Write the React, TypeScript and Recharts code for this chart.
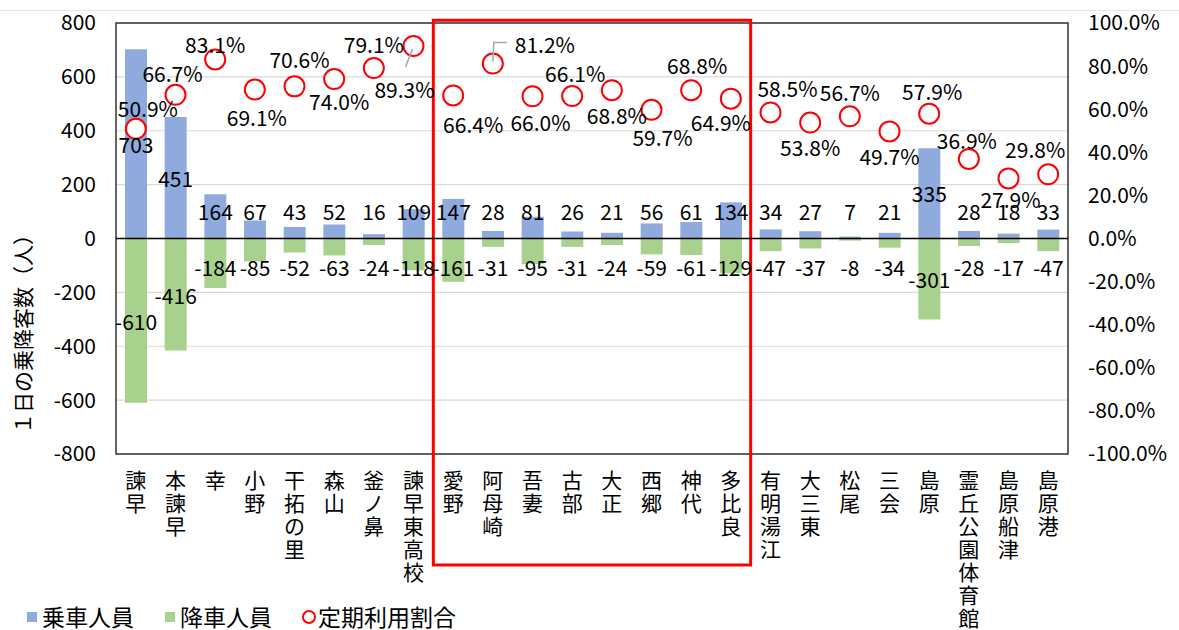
import React from 'react';
import {
  ComposedChart,
  Bar,
  Line,
  XAxis,
  YAxis,
  CartesianGrid,
  ReferenceLine,
  ReferenceArea,
  LabelList,
} from 'recharts';

const FONT = "'Noto Sans CJK JP', 'Noto Sans', sans-serif";

const stations = [
  '諫早', '本諫早', '幸', '小野', '干拓の里', '森山', '釜ノ鼻', '諫早東高校',
  '愛野', '阿母崎', '吾妻', '古部', '大正', '西郷', '神代', '多比良',
  '有明湯江', '大三東', '松尾', '三会', '島原', '霊丘公園体育館', '島原船津', '島原港',
];
const boarding = [703, 451, 164, 67, 43, 52, 16, 109, 147, 28, 81, 26, 21, 56, 61, 134, 34, 27, 7, 21, 335, 28, 18, 33];
const alighting = [-610, -416, -184, -85, -52, -63, -24, -118, -161, -31, -95, -31, -24, -59, -61, -129, -47, -37, -8, -34, -301, -28, -17, -47];
const passRatio = [50.9, 66.7, 83.1, 69.1, 70.6, 74.0, 79.1, 89.3, 66.4, 81.2, 66.0, 66.1, 68.8, 59.7, 68.8, 64.9, 58.5, 53.8, 56.7, 49.7, 57.9, 36.9, 27.9, 29.8];

const leftTicks = [-800, -600, -400, -200, 0, 200, 400, 600, 800];
const rightTicks = [-100, -80, -60, -40, -20, 0, 20, 40, 60, 80, 100];

// where each ratio label sits relative to its circle (px), like the hand-moved excel labels
const ratioLabelPos: { dx: number; dy: number; leader?: 'down' | 'up' }[] = [
  { dx: 12, dy: -21 }, { dx: -3, dy: -22 }, { dx: 0, dy: -15 }, { dx: 2, dy: 27 },
  { dx: 5, dy: -27 }, { dx: 5, dy: 22 }, { dx: 0, dy: -24 }, { dx: -9, dy: 43, leader: 'down' },
  { dx: 20, dy: 29 }, { dx: 52, dy: -20, leader: 'up' }, { dx: 8, dy: 26 }, { dx: 3, dy: -23 },
  { dx: 5, dy: 25 }, { dx: 11, dy: 27 }, { dx: 6, dy: -25 }, { dx: -10, dy: 23 },
  { dx: 17, dy: -24 }, { dx: 0, dy: 24 }, { dx: 0, dy: -24 }, { dx: 0, dy: 25 },
  { dx: 3, dy: -23 }, { dx: -2, dy: -19 }, { dx: 2, dy: 21 }, { dx: -13, dy: -25 },
];

const data = stations.map((name, i) => ({
  name,
  boarding: boarding[i],
  alighting: alighting[i],
  ratio: passRatio[i],
}));

const BLUE = '#8faadc';
const GREEN = '#a9d18e';
const RED = '#ff0000';

const StationTick = (props: any) => {
  const { x, y, payload } = props;
  const chars = String(payload.value).split('');
  return (
    <text x={x} y={y} textAnchor="middle" fontSize={21} fontFamily={FONT} fill="#000">
      {chars.map((c, i) => (
        <tspan key={i} x={x} dy={i === 0 ? 34 : 23}>
          {c}
        </tspan>
      ))}
    </text>
  );
};

// bar labels sit at the bar centre, but never closer to the zero line than a set amount
const makeBarLabel = (minOffset: number) => (props: any) => {
  const { x, y, width, height, value } = props;
  const top = Math.min(y, y + height);
  const bottom = Math.max(y, y + height);
  const h = bottom - top;
  const zeroY = value >= 0 ? bottom : top;
  const ppu = value !== 0 ? h / Math.abs(value) : 0;
  const target = value >= 0 ? Math.max(value / 2, minOffset) : Math.min(value / 2, -minOffset);
  const ly = zeroY - target * ppu;
  return (
    <text
      x={x + width / 2}
      y={ly}
      textAnchor="middle"
      dominantBaseline="central"
      fontSize={21}
      fontFamily={FONT}
      fill="#000"
    >
      {value}
    </text>
  );
};

const RatioLabel = (props: any) => {
  const { x, y, value, index } = props;
  const pos = ratioLabelPos[index] || { dx: 0, dy: -24 };
  const lx = x + pos.dx;
  const ly = y + pos.dy;
  return (
    <g>
      {pos.leader === 'down' && (
        <line x1={x - 1} y1={y + 3} x2={x - 8} y2={y + 21} stroke="#a6a6a6" strokeWidth={1.5} />
      )}
      {pos.leader === 'up' && (
        <polyline
          points={`${x},${y - 2} ${x + 1},${y - 21} ${x + 14},${y - 21}`}
          fill="none"
          stroke="#a6a6a6"
          strokeWidth={1.5}
        />
      )}
      <text
        x={lx}
        y={ly}
        textAnchor="middle"
        dominantBaseline="central"
        fontSize={21}
        fontFamily={FONT}
        fill="#000"
      >
        {`${Number(value).toFixed(1)}%`}
      </text>
    </g>
  );
};

const AxisTitle = (props: any) => {
  const { viewBox } = props;
  const cx = viewBox.x + 22;
  const cy = 329;
  return (
    <text
      x={cx}
      y={cy}
      transform={`rotate(-90, ${cx}, ${cy})`}
      textAnchor="middle"
      dominantBaseline="central"
      fontSize={21}
      fontFamily={FONT}
      fill="#000"
    >
      １日の乗降客数（人）
    </text>
  );
};

const legendText: React.CSSProperties = {
  position: 'absolute',
  top: 603,
  fontSize: 23,
  fontFamily: FONT,
  color: '#000',
  lineHeight: '26px',
  whiteSpace: 'nowrap',
};

export default function App() {
  return (
    <div style={{ position: 'absolute', left: 0, top: 0, width: 1179, height: 630, background: '#fff', overflow: 'hidden' }}>
      <div style={{ position: 'absolute', left: 0, top: 10, width: 1179, borderTop: '1px solid #e4e4e4' }} />
      <ComposedChart
        width={1179}
        height={630}
        data={data}
        stackOffset="sign"
        margin={{ top: 23, right: 0, bottom: 0, left: 0 }}
      >
        <CartesianGrid vertical={false} stroke="#d9d9d9" strokeWidth={1.2} yAxisId="left" />
        <XAxis
          dataKey="name"
          interval={0}
          tick={<StationTick />}
          tickLine={false}
          axisLine={false}
          tickSize={0}
          tickMargin={0}
          height={176}
        />
        <YAxis
          yAxisId="left"
          domain={[-800, 800]}
          ticks={leftTicks}
          width={116}
          tickLine={false}
          axisLine={false}
          tickSize={0}
          tickMargin={20}
          tick={{ fill: '#000', fontSize: 21, fontFamily: FONT }}
          label={<AxisTitle />}
        />
        <YAxis
          yAxisId="right"
          orientation="right"
          domain={[-100, 100]}
          ticks={rightTicks}
          width={111}
          tickLine={false}
          axisLine={false}
          tickSize={0}
          tickMargin={20}
          tick={{ fill: '#000', fontSize: 21, fontFamily: FONT, textAnchor: 'start' }}
          tickFormatter={(v: number) => `${v.toFixed(1)}%`}
        />
        <Bar yAxisId="left" dataKey="boarding" stackId="a" fill={BLUE} barSize={22} isAnimationActive={false}>
          <LabelList dataKey="boarding" content={makeBarLabel(101)} />
        </Bar>
        <Bar yAxisId="left" dataKey="alighting" stackId="a" fill={GREEN} barSize={22} isAnimationActive={false}>
          <LabelList dataKey="alighting" content={makeBarLabel(107)} />
        </Bar>
        <ReferenceLine yAxisId="left" y={0} stroke="#000" strokeWidth={1.5} />
        <ReferenceArea
          yAxisId="left"
          x1={stations[0]}
          x2={stations[stations.length - 1]}
          y1={-800}
          y2={800}
          fill="none"
          stroke="#333"
          strokeWidth={1.5}
          ifOverflow="visible"
        />
        <Line
          yAxisId="right"
          dataKey="ratio"
          stroke="none"
          isAnimationActive={false}
          dot={{ r: 10, stroke: RED, strokeWidth: 2, fill: '#fff' }}
          activeDot={false}
        >
          <LabelList dataKey="ratio" content={<RatioLabel />} />
        </Line>
        <ReferenceArea
          yAxisId="left"
          x1="愛野"
          x2="多比良"
          y1={-1212}
          y2={810}
          fill="none"
          stroke={RED}
          strokeWidth={3}
          ifOverflow="visible"
        />
      </ComposedChart>
      <div style={{ position: 'absolute', left: 27, top: 612, width: 10, height: 10, background: BLUE }} />
      <div style={{ ...legendText, left: 42 }}>乗車人員</div>
      <div style={{ position: 'absolute', left: 165, top: 612, width: 10, height: 10, background: GREEN }} />
      <div style={{ ...legendText, left: 180 }}>降車人員</div>
      <div
        style={{
          position: 'absolute',
          left: 302,
          top: 610,
          width: 10,
          height: 10,
          border: `2px solid ${RED}`,
          borderRadius: '50%',
        }}
      />
      <div style={{ ...legendText, left: 318 }}>定期利用割合</div>
    </div>
  );
}
